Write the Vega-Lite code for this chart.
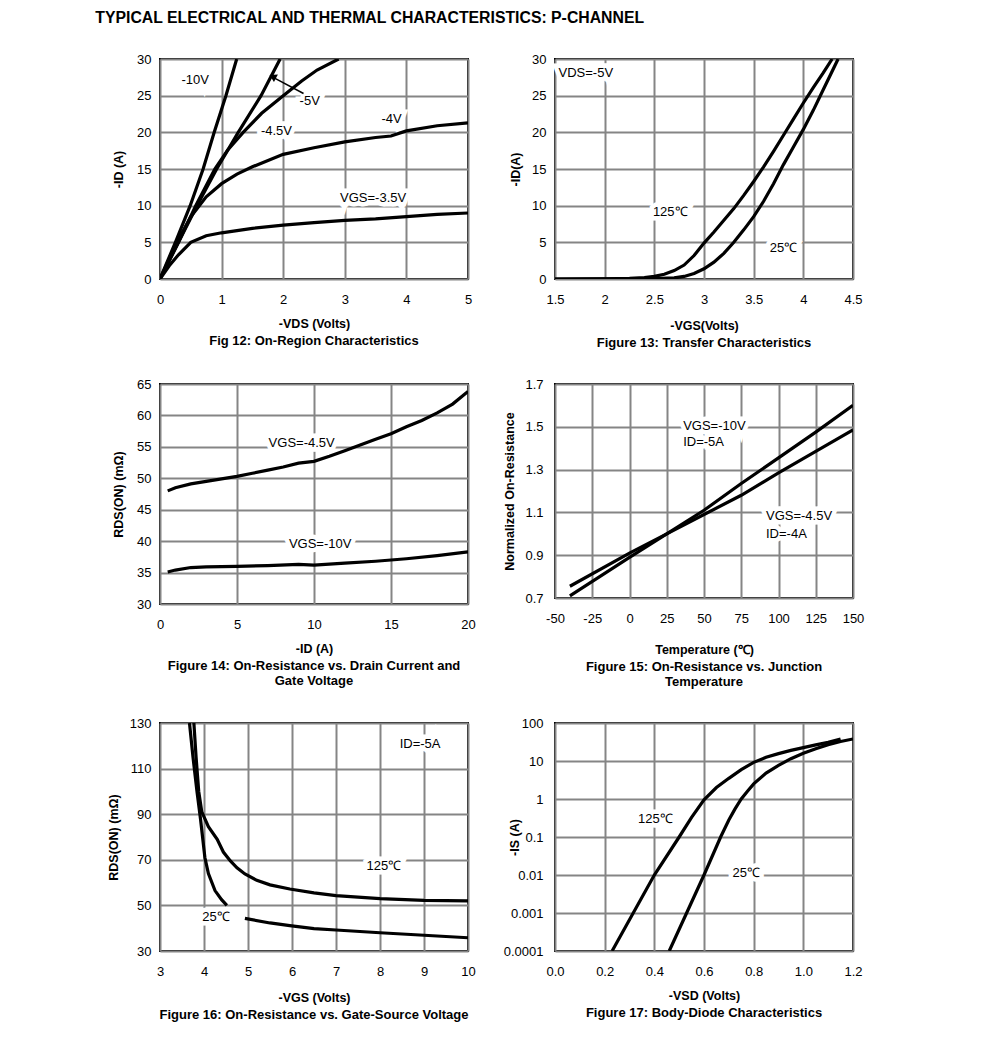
{
  "$schema": "https://vega.github.io/schema/vega-lite/v6.json",
  "background": "white",
  "padding": {"left": 95, "top": 10, "right": 5, "bottom": 5},
  "title": {"text": "TYPICAL ELECTRICAL AND THERMAL CHARACTERISTICS: P-CHANNEL", "orient": "top", "anchor": "start", "fontSize": 15.8, "fontWeight": "bold", "offset": 25, "dx": -11},
  "config": {
    "font": "Liberation Sans",
    "view": {"stroke": "black", "strokeWidth": 2},
    "axis": {"ticks": false, "domain": false, "grid": true, "gridColor": "#858585", "gridWidth": 2, "gridOpacity": 1, "labelFont": "Liberation Sans", "labelFontSize": 13, "labelColor": "black", "labelFlush": false, "labelOverlap": false, "labelBound": false, "titleFont": "Liberation Sans", "titleFontSize": 12.5, "titleFontWeight": "bold", "titleColor": "black"},
    "axisX": {"labelPadding": 14, "titlePadding": 11},
    "axisY": {"labelPadding": 9, "titlePadding": 11},
    "title": {"orient": "bottom", "anchor": "middle", "font": "Liberation Sans", "fontSize": 13, "fontWeight": "bold", "color": "black", "offset": 5},
    "text": {"font": "Liberation Sans", "fontSize": 13, "color": "black"}
  },
  "datasets": {
    "f12": [
      {"s": "-10V", "x": 0, "y": 0}, {"s": "-10V", "x": 0.25, "y": 5}, {"s": "-10V", "x": 0.49, "y": 10}, {"s": "-10V", "x": 0.7, "y": 15}, {"s": "-10V", "x": 0.88, "y": 20}, {"s": "-10V", "x": 1.07, "y": 25}, {"s": "-10V", "x": 1.245, "y": 30},
      {"s": "-5V", "x": 0, "y": 0}, {"s": "-5V", "x": 0.3, "y": 5}, {"s": "-5V", "x": 0.6, "y": 10}, {"s": "-5V", "x": 0.92, "y": 15}, {"s": "-5V", "x": 1.27, "y": 20}, {"s": "-5V", "x": 1.64, "y": 25}, {"s": "-5V", "x": 1.95, "y": 30},
      {"s": "-4.5V", "x": 0, "y": 0}, {"s": "-4.5V", "x": 0.3, "y": 5}, {"s": "-4.5V", "x": 0.58, "y": 10}, {"s": "-4.5V", "x": 0.89, "y": 15}, {"s": "-4.5V", "x": 1.1, "y": 17.6}, {"s": "-4.5V", "x": 1.35, "y": 20}, {"s": "-4.5V", "x": 1.65, "y": 22.6}, {"s": "-4.5V", "x": 2.0, "y": 25}, {"s": "-4.5V", "x": 2.3, "y": 27}, {"s": "-4.5V", "x": 2.55, "y": 28.5}, {"s": "-4.5V", "x": 2.9, "y": 30},
      {"s": "-4V", "x": 0, "y": 0}, {"s": "-4V", "x": 0.25, "y": 4.6}, {"s": "-4V", "x": 0.5, "y": 8.5}, {"s": "-4V", "x": 0.75, "y": 11.2}, {"s": "-4V", "x": 1.0, "y": 13}, {"s": "-4V", "x": 1.25, "y": 14.3}, {"s": "-4V", "x": 1.5, "y": 15.3}, {"s": "-4V", "x": 2.0, "y": 17}, {"s": "-4V", "x": 2.5, "y": 17.9}, {"s": "-4V", "x": 3.0, "y": 18.7}, {"s": "-4V", "x": 3.5, "y": 19.3}, {"s": "-4V", "x": 3.75, "y": 19.5}, {"s": "-4V", "x": 4.0, "y": 20.2}, {"s": "-4V", "x": 4.5, "y": 20.9}, {"s": "-4V", "x": 5.0, "y": 21.3},
      {"s": "-3.5V", "x": 0, "y": 0}, {"s": "-3.5V", "x": 0.15, "y": 1.8}, {"s": "-3.5V", "x": 0.3, "y": 3.3}, {"s": "-3.5V", "x": 0.5, "y": 5}, {"s": "-3.5V", "x": 0.75, "y": 5.9}, {"s": "-3.5V", "x": 1.0, "y": 6.3}, {"s": "-3.5V", "x": 1.5, "y": 6.9}, {"s": "-3.5V", "x": 2.0, "y": 7.35}, {"s": "-3.5V", "x": 2.5, "y": 7.7}, {"s": "-3.5V", "x": 3.0, "y": 8}, {"s": "-3.5V", "x": 3.5, "y": 8.2}, {"s": "-3.5V", "x": 4.0, "y": 8.5}, {"s": "-3.5V", "x": 4.5, "y": 8.8}, {"s": "-3.5V", "x": 5.0, "y": 9}
    ],
    "f12l": [
      {"t": "-10V", "x": 0.57, "y": 27.2}, {"t": "-5V", "x": 2.43, "y": 24.3}, {"t": "-4.5V", "x": 1.89, "y": 20.2}, {"t": "-4V", "x": 3.76, "y": 21.8}, {"t": "VGS=-3.5V", "x": 3.46, "y": 11.1}
    ],
    "f12a": [{"x": 2.33, "y": 25.3, "x2": 1.86, "y2": 27.4}],
    "f12h": [{"x": 1.83, "y": 27.6}],
    "f13": [
      {"s": "125", "x": 1.5, "y": 0}, {"s": "125", "x": 2.0, "y": 0.02}, {"s": "125", "x": 2.25, "y": 0.1}, {"s": "125", "x": 2.4, "y": 0.2}, {"s": "125", "x": 2.5, "y": 0.35}, {"s": "125", "x": 2.6, "y": 0.65}, {"s": "125", "x": 2.7, "y": 1.15}, {"s": "125", "x": 2.8, "y": 1.9}, {"s": "125", "x": 2.9, "y": 3.2}, {"s": "125", "x": 3.0, "y": 4.9}, {"s": "125", "x": 3.1, "y": 6.4}, {"s": "125", "x": 3.2, "y": 8}, {"s": "125", "x": 3.3, "y": 9.6}, {"s": "125", "x": 3.4, "y": 11.4}, {"s": "125", "x": 3.5, "y": 13.3}, {"s": "125", "x": 3.6, "y": 15.3}, {"s": "125", "x": 3.7, "y": 17.4}, {"s": "125", "x": 3.8, "y": 19.6}, {"s": "125", "x": 3.9, "y": 21.8}, {"s": "125", "x": 4.0, "y": 24}, {"s": "125", "x": 4.1, "y": 26.1}, {"s": "125", "x": 4.2, "y": 28.1}, {"s": "125", "x": 4.29, "y": 30},
      {"s": "25", "x": 1.5, "y": 0}, {"s": "25", "x": 2.5, "y": 0.05}, {"s": "25", "x": 2.7, "y": 0.15}, {"s": "25", "x": 2.8, "y": 0.35}, {"s": "25", "x": 2.9, "y": 0.75}, {"s": "25", "x": 3.0, "y": 1.4}, {"s": "25", "x": 3.1, "y": 2.3}, {"s": "25", "x": 3.2, "y": 3.5}, {"s": "25", "x": 3.3, "y": 5}, {"s": "25", "x": 3.4, "y": 6.7}, {"s": "25", "x": 3.5, "y": 8.5}, {"s": "25", "x": 3.6, "y": 10.6}, {"s": "25", "x": 3.7, "y": 13}, {"s": "25", "x": 3.8, "y": 15.6}, {"s": "25", "x": 3.9, "y": 18}, {"s": "25", "x": 4.0, "y": 20.4}, {"s": "25", "x": 4.1, "y": 23}, {"s": "25", "x": 4.2, "y": 25.8}, {"s": "25", "x": 4.3, "y": 28.6}, {"s": "25", "x": 4.35, "y": 30}
    ],
    "f13l": [
      {"t": "VDS=-5V", "x": 1.81, "y": 28.1}, {"t": "125℃", "x": 2.66, "y": 9.2}, {"t": "25℃", "x": 3.8, "y": 4.2}
    ],
    "f14": [
      {"s": "-4.5V", "x": 0.5, "y": 48}, {"s": "-4.5V", "x": 1, "y": 48.5}, {"s": "-4.5V", "x": 2, "y": 49.1}, {"s": "-4.5V", "x": 3, "y": 49.5}, {"s": "-4.5V", "x": 4, "y": 49.9}, {"s": "-4.5V", "x": 5, "y": 50.3}, {"s": "-4.5V", "x": 6, "y": 50.8}, {"s": "-4.5V", "x": 7, "y": 51.3}, {"s": "-4.5V", "x": 8, "y": 51.8}, {"s": "-4.5V", "x": 9, "y": 52.4}, {"s": "-4.5V", "x": 10, "y": 52.7}, {"s": "-4.5V", "x": 11, "y": 53.5}, {"s": "-4.5V", "x": 12, "y": 54.4}, {"s": "-4.5V", "x": 13, "y": 55.3}, {"s": "-4.5V", "x": 14, "y": 56.2}, {"s": "-4.5V", "x": 15, "y": 57.1}, {"s": "-4.5V", "x": 16, "y": 58.2}, {"s": "-4.5V", "x": 17, "y": 59.2}, {"s": "-4.5V", "x": 18, "y": 60.4}, {"s": "-4.5V", "x": 19, "y": 61.8}, {"s": "-4.5V", "x": 20, "y": 63.8},
      {"s": "-10V", "x": 0.5, "y": 35.1}, {"s": "-10V", "x": 1, "y": 35.4}, {"s": "-10V", "x": 2, "y": 35.8}, {"s": "-10V", "x": 3, "y": 35.9}, {"s": "-10V", "x": 5, "y": 36}, {"s": "-10V", "x": 7, "y": 36.1}, {"s": "-10V", "x": 9, "y": 36.3}, {"s": "-10V", "x": 10, "y": 36.2}, {"s": "-10V", "x": 12, "y": 36.5}, {"s": "-10V", "x": 14, "y": 36.8}, {"s": "-10V", "x": 16, "y": 37.2}, {"s": "-10V", "x": 18, "y": 37.7}, {"s": "-10V", "x": 20, "y": 38.3}
    ],
    "f14l": [
      {"t": "VGS=-4.5V", "x": 9.2, "y": 55.6}, {"t": "VGS=-10V", "x": 10.4, "y": 39.5}
    ],
    "f15": [
      {"s": "-10V", "x": -40, "y": 0.71}, {"s": "-10V", "x": 0, "y": 0.89}, {"s": "-10V", "x": 25, "y": 1.0}, {"s": "-10V", "x": 50, "y": 1.11}, {"s": "-10V", "x": 75, "y": 1.235}, {"s": "-10V", "x": 100, "y": 1.355}, {"s": "-10V", "x": 125, "y": 1.475}, {"s": "-10V", "x": 150, "y": 1.6},
      {"s": "-4.5V", "x": -40, "y": 0.755}, {"s": "-4.5V", "x": 0, "y": 0.91}, {"s": "-4.5V", "x": 25, "y": 1.0}, {"s": "-4.5V", "x": 50, "y": 1.09}, {"s": "-4.5V", "x": 75, "y": 1.18}, {"s": "-4.5V", "x": 100, "y": 1.285}, {"s": "-4.5V", "x": 125, "y": 1.385}, {"s": "-4.5V", "x": 150, "y": 1.485}
    ],
    "f15l": [
      {"t": "VGS=-10V", "x": 36, "y": 1.505}, {"t": "ID=-5A", "x": 36, "y": 1.428}, {"t": "VGS=-4.5V", "x": 91.6, "y": 1.085}, {"t": "ID=-4A", "x": 91.6, "y": 0.999}
    ],
    "f16": [
      {"s": "125", "x": 3.77, "y": 130}, {"s": "125", "x": 3.82, "y": 115}, {"s": "125", "x": 3.88, "y": 100}, {"s": "125", "x": 3.95, "y": 91}, {"s": "125", "x": 4.1, "y": 84.5}, {"s": "125", "x": 4.3, "y": 79}, {"s": "125", "x": 4.44, "y": 73.4}, {"s": "125", "x": 4.6, "y": 69.5}, {"s": "125", "x": 4.75, "y": 66.5}, {"s": "125", "x": 4.93, "y": 63.8}, {"s": "125", "x": 5.2, "y": 61}, {"s": "125", "x": 5.5, "y": 59}, {"s": "125", "x": 5.95, "y": 57.2}, {"s": "125", "x": 6.5, "y": 55.5}, {"s": "125", "x": 7, "y": 54.3}, {"s": "125", "x": 8, "y": 53}, {"s": "125", "x": 9, "y": 52.2}, {"s": "125", "x": 10, "y": 52},
      {"s": "25a", "x": 3.67, "y": 130}, {"s": "25a", "x": 3.75, "y": 115}, {"s": "25a", "x": 3.84, "y": 100}, {"s": "25a", "x": 3.92, "y": 88}, {"s": "25a", "x": 4.02, "y": 71}, {"s": "25a", "x": 4.1, "y": 64}, {"s": "25a", "x": 4.25, "y": 56.5}, {"s": "25a", "x": 4.4, "y": 52.5}, {"s": "25a", "x": 4.52, "y": 50},
      {"s": "25b", "x": 4.93, "y": 44.3}, {"s": "25b", "x": 5.5, "y": 42.3}, {"s": "25b", "x": 5.95, "y": 41.1}, {"s": "25b", "x": 6.5, "y": 39.8}, {"s": "25b", "x": 7, "y": 39.2}, {"s": "25b", "x": 8, "y": 38}, {"s": "25b", "x": 9, "y": 36.9}, {"s": "25b", "x": 10, "y": 35.8}
    ],
    "f16l": [
      {"t": "ID=-5A", "x": 8.91, "y": 120.8}, {"t": "125℃", "x": 8.09, "y": 67.4}, {"t": "25℃", "x": 4.27, "y": 44.8}
    ],
    "f17": [
      {"s": "125", "x": 0.23, "y": 0.0001}, {"s": "125", "x": 0.315, "y": 0.001}, {"s": "125", "x": 0.4, "y": 0.01}, {"s": "125", "x": 0.5, "y": 0.1}, {"s": "125", "x": 0.55, "y": 0.33}, {"s": "125", "x": 0.6, "y": 0.95}, {"s": "125", "x": 0.65, "y": 2.0}, {"s": "125", "x": 0.7, "y": 3.5}, {"s": "125", "x": 0.75, "y": 5.9}, {"s": "125", "x": 0.8, "y": 9.2}, {"s": "125", "x": 0.85, "y": 12.5}, {"s": "125", "x": 0.9, "y": 15.6}, {"s": "125", "x": 0.95, "y": 19}, {"s": "125", "x": 1.0, "y": 22.5}, {"s": "125", "x": 1.05, "y": 26.5}, {"s": "125", "x": 1.1, "y": 31}, {"s": "125", "x": 1.15, "y": 38},
      {"s": "25", "x": 0.46, "y": 0.0001}, {"s": "25", "x": 0.53, "y": 0.001}, {"s": "25", "x": 0.6, "y": 0.01}, {"s": "25", "x": 0.667, "y": 0.1}, {"s": "25", "x": 0.7, "y": 0.28}, {"s": "25", "x": 0.725, "y": 0.55}, {"s": "25", "x": 0.75, "y": 1}, {"s": "25", "x": 0.775, "y": 1.6}, {"s": "25", "x": 0.8, "y": 2.5}, {"s": "25", "x": 0.85, "y": 4.8}, {"s": "25", "x": 0.9, "y": 7.7}, {"s": "25", "x": 0.95, "y": 11.5}, {"s": "25", "x": 1.0, "y": 16}, {"s": "25", "x": 1.05, "y": 21}, {"s": "25", "x": 1.1, "y": 27}, {"s": "25", "x": 1.15, "y": 32.5}, {"s": "25", "x": 1.2, "y": 38}
    ],
    "f17l": [
      {"t": "125℃", "x": 0.404, "y": 0.29}, {"t": "25℃", "x": 0.77, "y": 0.0112}
    ]
  },
  "concat": [
    {
      "width": 308, "height": 220,
      "title": {"text": "Fig 12: On-Region Characteristics"},
      "encoding": {
        "x": {"field": "x", "type": "quantitative", "scale": {"domain": [0, 5], "nice": false, "zero": false}, "axis": {"title": "-VDS (Volts)", "values": [0, 1, 2, 3, 4, 5]}},
        "y": {"field": "y", "type": "quantitative", "scale": {"domain": [0, 30], "nice": false, "zero": false}, "axis": {"title": "-ID (A)", "values": [0, 5, 10, 15, 20, 25, 30], "titlePadding": 11}}
      },
      "layer": [
        {"data": {"name": "f12l"}, "mark": {"type": "text", "stroke": "white", "strokeWidth": 9, "fill": "white"}, "encoding": {"text": {"field": "t"}}},
        {"data": {"name": "f12"}, "mark": {"type": "line", "color": "black", "strokeWidth": 3.2, "clip": true}, "encoding": {"detail": {"field": "s"}}},
        {"data": {"name": "f12a"}, "mark": {"type": "rule", "color": "black", "strokeWidth": 1.5}, "encoding": {"x2": {"field": "x2"}, "y2": {"field": "y2"}}},
        {"data": {"name": "f12h"}, "mark": {"type": "point", "shape": "triangle-up", "filled": true, "color": "black", "opacity": 1, "size": 70, "angle": 298}, "encoding": {}},
        {"data": {"name": "f12l"}, "mark": {"type": "text"}, "encoding": {"text": {"field": "t"}}}
      ]
    },
    {
      "width": 298, "height": 220,
      "title": {"text": "Figure 13: Transfer Characteristics"},
      "encoding": {
        "x": {"field": "x", "type": "quantitative", "scale": {"domain": [1.5, 4.5], "nice": false, "zero": false}, "axis": {"title": "-VGS(Volts)", "values": [1.5, 2, 2.5, 3, 3.5, 4, 4.5], "format": "~g", "titlePadding": 13}},
        "y": {"field": "y", "type": "quantitative", "scale": {"domain": [0, 30], "nice": false, "zero": false}, "axis": {"title": "-ID(A)", "values": [0, 5, 10, 15, 20, 25, 30], "titlePadding": 9}}
      },
      "layer": [
        {"data": {"name": "f13l"}, "mark": {"type": "text", "stroke": "white", "strokeWidth": 9, "fill": "white"}, "encoding": {"text": {"field": "t"}}},
        {"data": {"name": "f13"}, "mark": {"type": "line", "color": "black", "strokeWidth": 3.2, "clip": true}, "encoding": {"detail": {"field": "s"}}},
        {"data": {"name": "f13l"}, "mark": {"type": "text"}, "encoding": {"text": {"field": "t"}}}
      ]
    },
    {
      "width": 308, "height": 220,
      "title": {"text": ["Figure 14: On-Resistance vs. Drain Current and", "Gate Voltage"]},
      "encoding": {
        "x": {"field": "x", "type": "quantitative", "scale": {"domain": [0, 20], "nice": false, "zero": false}, "axis": {"title": "-ID (A)", "values": [0, 5, 10, 15, 20]}},
        "y": {"field": "y", "type": "quantitative", "scale": {"domain": [30, 65], "nice": false, "zero": false}, "axis": {"title": "RDS(ON) (mΩ)", "values": [30, 35, 40, 45, 50, 55, 60, 65], "titlePadding": 11}}
      },
      "layer": [
        {"data": {"name": "f14l"}, "mark": {"type": "text", "stroke": "white", "strokeWidth": 9, "fill": "white"}, "encoding": {"text": {"field": "t"}}},
        {"data": {"name": "f14"}, "mark": {"type": "line", "color": "black", "strokeWidth": 3.2, "clip": true}, "encoding": {"detail": {"field": "s"}}},
        {"data": {"name": "f14l"}, "mark": {"type": "text"}, "encoding": {"text": {"field": "t"}}}
      ]
    },
    {
      "width": 298, "height": 214,
      "title": {"text": ["Figure 15: On-Resistance vs. Junction", "Temperature"]},
      "encoding": {
        "x": {"field": "x", "type": "quantitative", "scale": {"domain": [-50, 150], "nice": false, "zero": false}, "axis": {"title": "Temperature (℃)", "values": [-50, -25, 0, 25, 50, 75, 100, 125, 150], "labelExpr": "datum.value < 0 ? '-' + abs(datum.value) : datum.label", "titlePadding": 18}},
        "y": {"field": "y", "type": "quantitative", "scale": {"domain": [0.7, 1.7], "nice": false, "zero": false}, "axis": {"title": "Normalized On-Resistance", "values": [0.7, 0.9, 1.1, 1.3, 1.5, 1.7], "format": ".1f", "labelPadding": 12, "titlePadding": 8}}
      },
      "layer": [
        {"data": {"name": "f15l"}, "mark": {"type": "text", "align": "left", "stroke": "white", "strokeWidth": 9, "fill": "white"}, "encoding": {"text": {"field": "t"}}},
        {"data": {"name": "f15"}, "mark": {"type": "line", "color": "black", "strokeWidth": 3.2, "clip": true}, "encoding": {"detail": {"field": "s"}}},
        {"data": {"name": "f15l"}, "mark": {"type": "text", "align": "left"}, "encoding": {"text": {"field": "t"}}}
      ]
    },
    {
      "width": 308, "height": 228,
      "title": {"text": "Figure 16: On-Resistance vs. Gate-Source Voltage"},
      "encoding": {
        "x": {"field": "x", "type": "quantitative", "scale": {"domain": [3, 10], "nice": false, "zero": false}, "axis": {"title": "-VGS (Volts)", "values": [3, 4, 5, 6, 7, 8, 9, 10], "titlePadding": 13}},
        "y": {"field": "y", "type": "quantitative", "scale": {"domain": [30, 130], "nice": false, "zero": false}, "axis": {"title": "RDS(ON) (mΩ)", "values": [30, 50, 70, 90, 110, 130], "titlePadding": 9}}
      },
      "layer": [
        {"data": {"name": "f16l"}, "mark": {"type": "text", "stroke": "white", "strokeWidth": 9, "fill": "white"}, "encoding": {"text": {"field": "t"}}},
        {"data": {"name": "f16"}, "mark": {"type": "line", "color": "black", "strokeWidth": 3.2, "clip": true}, "encoding": {"detail": {"field": "s"}}},
        {"data": {"name": "f16l"}, "mark": {"type": "text"}, "encoding": {"text": {"field": "t"}}}
      ]
    },
    {
      "width": 298, "height": 228,
      "title": {"text": "Figure 17: Body-Diode Characteristics"},
      "encoding": {
        "x": {"field": "x", "type": "quantitative", "scale": {"domain": [0, 1.2], "nice": false, "zero": false}, "axis": {"title": "-VSD (Volts)", "values": [0, 0.2, 0.4, 0.6, 0.8, 1.0, 1.2], "format": ".1f"}},
        "y": {"field": "y", "type": "quantitative", "scale": {"type": "log", "domain": [0.0001, 100], "nice": false}, "axis": {"title": "-IS (A)", "values": [0.0001, 0.001, 0.01, 0.1, 1, 10, 100], "format": "~g", "labelPadding": 12, "titlePadding": -18}}
      },
      "layer": [
        {"data": {"name": "f17l"}, "mark": {"type": "text", "stroke": "white", "strokeWidth": 9, "fill": "white"}, "encoding": {"text": {"field": "t"}}},
        {"data": {"name": "f17"}, "mark": {"type": "line", "color": "black", "strokeWidth": 3.2, "clip": true}, "encoding": {"detail": {"field": "s"}}},
        {"data": {"name": "f17l"}, "mark": {"type": "text"}, "encoding": {"text": {"field": "t"}}}
      ]
    }
  ],
  "columns": 2,
  "spacing": {"row": 26, "column": 25}
}
